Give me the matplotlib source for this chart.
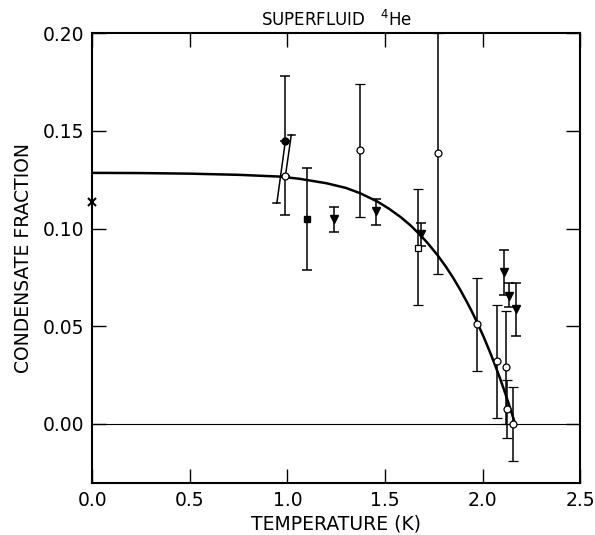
import matplotlib
matplotlib.use("Agg")
import matplotlib.pyplot as plt
import numpy as np

plt.rcParams['font.family'] = ['DejaVu Sans']

# smooth curve
curve_T = [0.0, 0.25, 0.5, 0.75, 0.96, 1.06, 1.2, 1.3, 1.37, 1.46, 1.52, 1.58,
           1.63, 1.68, 1.72, 1.77, 1.81, 1.85, 1.885, 1.92, 1.945, 1.97, 2.005,
           2.04, 2.065, 2.09, 2.11, 2.13, 2.15, 2.167]
curve_n = [0.1285, 0.1284, 0.1281, 0.1275, 0.1266, 0.1255, 0.1232, 0.1208, 0.1182,
           0.1139, 0.1102, 0.1059, 0.1017, 0.0968, 0.0924, 0.0863, 0.0808, 0.0747,
           0.0688, 0.0624, 0.0576, 0.0524, 0.0447, 0.0363, 0.0299, 0.0232,
           0.0175, 0.0116, 0.0054, 0.0]

# open circles
oc_T = [0.99, 1.37, 1.77, 1.97, 2.075, 2.12, 2.125, 2.155]
oc_n = [0.127, 0.140, 0.1386, 0.051, 0.032, 0.029, 0.0077, 0.0]
oc_lo = [0.107, 0.106, 0.077, 0.027, 0.003, 0.0, -0.007, -0.019]
oc_hi = [0.148, 0.174, 0.200, 0.0745, 0.061, 0.058, 0.0225, 0.0187]
# the first open circle's upper bar leans to the right, up to this x
oc_hi_x0 = 1.02

# filled down triangles
tr_T = [1.24, 1.455, 1.685, 2.11, 2.135, 2.17]
tr_n = [0.105, 0.109, 0.097, 0.078, 0.0655, 0.0587]
tr_lo = [0.098, 0.102, 0.091, 0.066, 0.060, 0.045]
tr_hi = [0.111, 0.115, 0.103, 0.089, 0.072, 0.072]

# single points
fc_T, fc_n, fc_lo, fc_hi = [0.99], [0.145], [0.113], [0.178]
fc_lo_x = 0.946  # lower bar of the filled circle leans left
fs_T, fs_n, fs_lo, fs_hi = [1.10], [0.105], [0.079], [0.131]
os_T, os_n, os_lo, os_hi = [1.67], [0.090], [0.061], [0.120]
x_T, x_n = [0.0], [0.1135]


def yerr(n, lo, hi):
    n = np.array(n)
    return [n - np.array(lo), np.array(hi) - n]


fig = plt.figure(figsize=(5.95, 5.35), dpi=100)
ax = fig.add_axes([0.155, 0.098, 0.82, 0.84])

ax.axhline(0, color='black', lw=0.8, zorder=1)
ax.plot(curve_T, curve_n, color='black', lw=1.8, zorder=2, solid_joinstyle='round')

eb = dict(ecolor='black', elinewidth=1.1, capsize=3.6, capthick=1.1, ls='none', zorder=3)
cap_hw = 0.018  # half width of a cap in data units, for the leaning bars

ax.errorbar(oc_T[1:], oc_n[1:], yerr=yerr(oc_n[1:], oc_lo[1:], oc_hi[1:]), fmt='o',
            ms=5, mfc='white', mec='black', mew=0.9, **eb)
# first open circle: lower bar straight, upper bar leaning
ax.errorbar(oc_T[:1], oc_n[:1], yerr=[[oc_n[0] - oc_lo[0]], [0]], fmt='none', **eb)
ax.plot([oc_T[0], oc_hi_x0], [oc_n[0], oc_hi[0]], color='black', lw=1.1, zorder=3)
ax.plot([oc_hi_x0 - cap_hw, oc_hi_x0 + cap_hw], [oc_hi[0], oc_hi[0]], color='black', lw=1.1)
ax.plot(oc_T[:1], oc_n[:1], 'o', ms=5, mfc='white', mec='black', mew=0.9, zorder=5)

ax.errorbar(tr_T, tr_n, yerr=yerr(tr_n, tr_lo, tr_hi), fmt='v', ms=5.5,
            mfc='black', mec='black', **eb)

# filled circle: upper bar straight, lower bar leaning
ax.errorbar(fc_T, fc_n, yerr=[[0], [fc_hi[0] - fc_n[0]]], fmt='o', ms=5,
            mfc='black', mec='black', **eb)
ax.plot([fc_T[0], fc_lo_x], [fc_n[0], fc_lo[0]], color='black', lw=1.1, zorder=3)
ax.plot([fc_lo_x - cap_hw, fc_lo_x + cap_hw], [fc_lo[0], fc_lo[0]], color='black', lw=1.1)

ax.errorbar(fs_T, fs_n, yerr=yerr(fs_n, fs_lo, fs_hi), fmt='s', ms=4.5,
            mfc='black', mec='black', **eb)
ax.errorbar(os_T, os_n, yerr=yerr(os_n, os_lo, os_hi), fmt='s', ms=5,
            mfc='white', mec='black', mew=0.9, **eb)
ax.plot(x_T, x_n, 'x', color='black', ms=6, mew=1.5, clip_on=False, zorder=4)

ax.set_xlim(0, 2.5)
ax.set_ylim(-0.03, 0.20)
ax.set_xticks([0.0, 0.5, 1.0, 1.5, 2.0, 2.5])
ax.set_yticks([0.0, 0.05, 0.10, 0.15, 0.20])
ax.set_xticklabels(['0.0', '0.5', '1.0', '1.5', '2.0', '2.5'])
ax.set_yticklabels(['0.00', '0.05', '0.10', '0.15', '0.20'])
ax.tick_params(direction='in', length=10, width=1, top=True, right=True,
               labelsize=13.5, pad=6)
for s in ax.spines.values():
    s.set_linewidth(1.5)

ax.set_xlabel('TEMPERATURE (K)', fontsize=13.5, labelpad=3)
ax.set_ylabel('CONDENSATE FRACTION', fontsize=13.5, labelpad=7)
ax.set_title('SUPERFLUID   $^{4}$He', fontsize=12, pad=5)

fig.savefig('out.png', dpi=100)
